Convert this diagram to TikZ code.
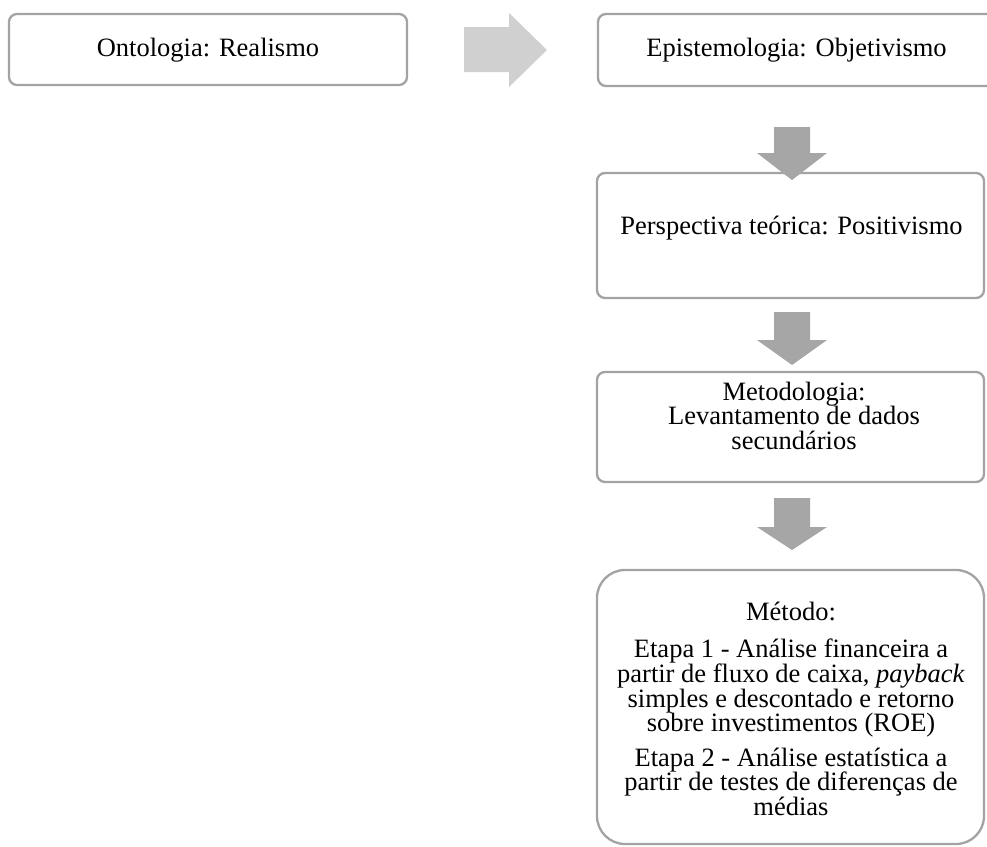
\documentclass[tikz,border=0pt]{standalone}
\usepackage{fontspec}
\setmainfont{Liberation Serif}
\definecolor{boxgray}{HTML}{A3A3A3}
\definecolor{arrowlight}{HTML}{D0D0D0}
\definecolor{arrowdark}{HTML}{A6A6A6}
\begin{document}
\begin{tikzpicture}[x=1pt,y=-1pt,
  box/.style={draw=boxgray, line width=2.3pt, rounded corners=8pt, fill=white, inner sep=0pt, outer sep=0pt},
  bigbox/.style={box, rounded corners=28pt},
  txt/.style={inner sep=0pt, outer sep=0pt, font=\fontsize{26.5}{24.5}\selectfont, anchor=base},
  lightarrow/.style={fill=arrowlight, draw=none},
  darkarrow/.style={fill=arrowdark, draw=none}]
\path[use as bounding box] (0,0) rectangle (987,846);
\clip (0,0) rectangle (987,846);
\fill[white] (0,0) rectangle (987,846);

% boxes
\node[box, minimum width=398pt, minimum height=71pt] (onto) at (208,49.5) {};
\node[box, minimum width=397pt, minimum height=72pt] (epis) at (796.5,50) {};
\node[box, minimum width=387pt, minimum height=125pt] (persp) at (790.5,235.5) {};
\node[box, minimum width=387pt, minimum height=110pt] (metod) at (790.5,427) {};
\node[bigbox, minimum width=387pt, minimum height=274pt] (metodo) at (790.5,707) {};

% texts
\node[txt] (onto-t) at (208,56.5) {Ontologia: Realismo};
\node[txt] (epis-t) at (796.5,56.5) {Epistemologia: Objetivismo};
\node[txt] (persp-t) at (791.5,234) {Perspectiva teórica: Positivismo};
\node[txt] (metod-t1) at (794,400) {Metodologia:};
\node[txt] (metod-t2) at (794,424.5) {Levantamento de dados};
\node[txt] (metod-t3) at (794,449) {secundários};
\node[txt] (metodo-t1) at (791,620) {Método:};
\node[txt] (metodo-t2) at (791,657) {Etapa 1 - Análise financeira a};
\node[txt] (metodo-t3) at (791,682) {partir de fluxo de caixa, \textit{payback}};
\node[txt] (metodo-t4) at (791,707) {simples e descontado e retorno};
\node[txt] (metodo-t5) at (791,731.5) {sobre investimentos (ROE)};
\node[txt] (metodo-t6) at (791,766) {Etapa 2 - Análise estatística a};
\node[txt] (metodo-t7) at (791,790.5) {partir de testes de diferenças de};
\node[txt] (metodo-t8) at (791,815) {médias};

% right block arrow between onto and epis
\fill[lightarrow] (464,27) -- (509,27) -- (509,13) -- (547,50) -- (509,87) -- (509,72) -- (464,72) -- cycle;

% down block arrows
\foreach \top/\base/\tip in {127/153/180, 312/340/365, 498/527/550}{
  \fill[darkarrow] (774,\top) -- (810,\top) -- (810,\base) -- (827,\base) -- (792,\tip) -- (757,\base) -- (774,\base) -- cycle;
}
\end{tikzpicture}
\end{document}
